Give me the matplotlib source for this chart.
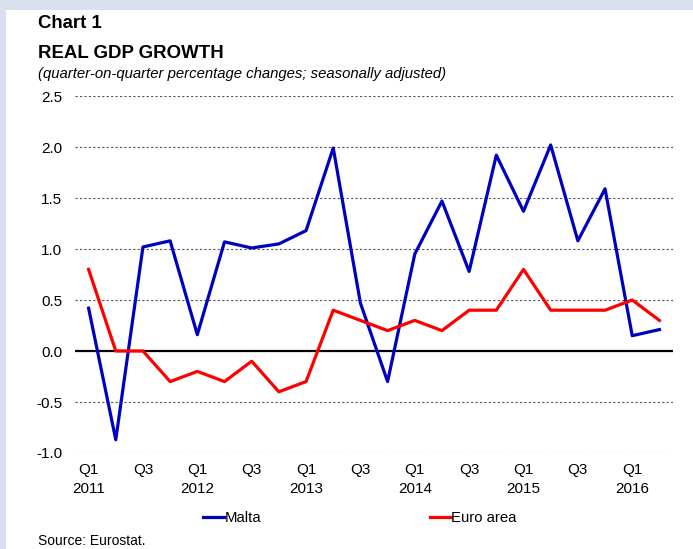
import numpy as np
import matplotlib
matplotlib.use('Agg')
import matplotlib.pyplot as plt

plt.rcParams['font.family'] = ['Liberation Sans', 'DejaVu Sans']

# Quarterly real GDP growth, Q1 2011 - Q2 2016
quarters = ['Q1 2011', 'Q2 2011', 'Q3 2011', 'Q4 2011',
            'Q1 2012', 'Q2 2012', 'Q3 2012', 'Q4 2012',
            'Q1 2013', 'Q2 2013', 'Q3 2013', 'Q4 2013',
            'Q1 2014', 'Q2 2014', 'Q3 2014', 'Q4 2014',
            'Q1 2015', 'Q2 2015', 'Q3 2015', 'Q4 2015',
            'Q1 2016', 'Q2 2016']
malta = [0.42, -0.87, 1.02, 1.08, 0.16, 1.07, 1.01, 1.05, 1.18, 1.99,
         0.47, -0.30, 0.95, 1.47, 0.78, 1.92, 1.37, 2.02, 1.08, 1.59,
         0.15, 0.21]
euro_area = [0.8, 0.0, 0.0, -0.3, -0.2, -0.3, -0.1, -0.4, -0.3, 0.4,
             0.3, 0.2, 0.3, 0.2, 0.4, 0.4, 0.8, 0.4, 0.4, 0.4,
             0.5, 0.3]
tick_labels = ['Q1\n2011', 'Q3', 'Q1\n2012', 'Q3', 'Q1\n2013', 'Q3',
               'Q1\n2014', 'Q3', 'Q1\n2015', 'Q3', 'Q1\n2016']
y_ticks = [-1.0, -0.5, 0.0, 0.5, 1.0, 1.5, 2.0, 2.5]

W, H = 693, 549
fig = plt.figure(figsize=(W / 100, H / 100), dpi=100, facecolor='#dae1ee')

# white panel
panel = fig.add_axes([6 / W, 0, 1 - 6 / W, 1 - 10 / H])
panel.set_facecolor('white')
panel.set_xticks([])
panel.set_yticks([])
for s in panel.spines.values():
    s.set_visible(False)

ax = fig.add_axes([75 / W, 1 - 453 / H, 598 / W, 357 / H])
ax.set_facecolor('none')
x = np.arange(len(quarters))

for v in y_ticks:
    if v != 0:
        ax.axhline(v, color='#555555', lw=0.8, ls=(0, (2, 2)), zorder=1)
ax.axhline(0, color='black', lw=1.6, zorder=2)

ax.plot(x, malta, color='#0000c0', lw=2.3, label='Malta', zorder=3)
ax.plot(x, euro_area, color='#ff0000', lw=2.3, label='Euro area', zorder=4)

ax.set_xlim(-0.5, len(quarters) - 0.5)
ax.set_ylim(-1.0, 2.5)
ax.set_yticks(y_ticks)
ax.set_yticklabels([f'{v:.1f}' for v in y_ticks])
ax.set_xticks(x[::2])
ax.set_xticklabels(tick_labels, linespacing=1.45)
ax.tick_params(length=0, labelsize=11, colors='black')
ax.tick_params(axis='y', pad=9)
ax.tick_params(axis='x', pad=7)
for s in ax.spines.values():
    s.set_visible(False)

fig.text(38 / W, 1 - 23 / H, 'Chart 1', fontsize=13.4, fontweight='bold', va='center')
fig.text(38 / W, 1 - 53 / H, 'REAL GDP GROWTH', fontsize=13.4, fontweight='bold', va='center')
fig.text(38 / W, 1 - 74 / H, '(quarter-on-quarter percentage changes; seasonally adjusted)',
         fontsize=10.7, fontstyle='italic', va='center')
fig.text(38 / W, 1 - 541 / H, 'Source: Eurostat.', fontsize=10, va='center')

leg = fig.legend(loc='center', bbox_to_anchor=(360 / W, 1 - 518 / H), ncol=2,
                 frameon=False, fontsize=10.7, handlelength=1.4, handletextpad=0.0,
                 columnspacing=11.4)

fig.savefig('out.png', dpi=100, facecolor=fig.get_facecolor())
